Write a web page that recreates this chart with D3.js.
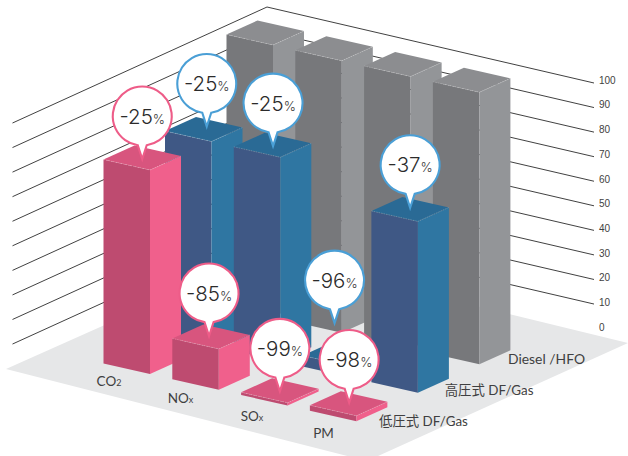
<!DOCTYPE html>
<html><head><meta charset="utf-8">
<script src="https://cdn.jsdelivr.net/npm/d3@7"></script>
<style>
html,body{margin:0;padding:0;background:#fff}
svg{display:block}
text{font-family:Lato,"Noto Sans CJK JP",sans-serif}
</style></head><body>
<svg id="c" width="628" height="456"></svg>
<script>
const categories = ["CO2","NOx","SOx","PM"];
const seriesNames = ["低圧式 DF/Gas","高圧式 DF/Gas","Diesel /HFO"];
const lowValues = [75,15,1,2];
const highValues = [75,75,4,63];
const dieselValues = [100,100,100,100];
const gridTicks = [10,20,30,40,50,60,70,80,90,100];
const axisTicks = [0,10,20,30,40,50,60,70,80,90,100];

const svg = d3.select("#c");
const uS = d3.scalePoint().domain(categories).range([0,3]);
const sS = d3.scalePoint().domain(seriesNames).range([0,2]);
const heightS = d3.scaleLinear().domain([0,100]).range([0,272]);
const project = (u,s)=>[150+68.8*u+61.5*s, 374+15.75*u-28.5*s];

const wallY = d3.scaleLinear().domain([0,100]).range([0,-245.6]);
const LEFT=[12.5,368.6], BACK=[267,252.6], RIGHT=[594,328.6];

const palette = [
 {left:"#BE4B70",right:"#F0608C",top:"#D8557E",ring:"#EE5C88"},
 {left:"#3F5885",right:"#2F76A2",top:"#2A6A95",ring:"#4A9FD6"},
 {left:"#77787B",right:"#939598",top:"#8C8D90",ring:"#888"}
];
const allValues=[lowValues,highValues,dieselValues];

// floor
svg.append("polygon").attr("points",[[6,369],[264,254],[628,343],[367,461]].join(" ")).attr("fill","#E6E7E8");

// wall grid lines
svg.append("g").selectAll("polyline").data(gridTicks).join("polyline")
  .attr("fill","none").attr("stroke","#2b2b2b").attr("stroke-width",0.9)
  .attr("points",v=>[LEFT,BACK,RIGHT].map(p=>[p[0],p[1]+wallY(v)]).join(" "));

// axis labels
const axisS = d3.scaleLinear().domain([0,100]).range([330,83]);
const ax = svg.append("g").attr("transform","translate(594,-3)")
  .call(d3.axisRight(axisS).tickValues(axisTicks).tickSize(0).tickPadding(5));
ax.select(".domain").remove();
ax.selectAll("text").attr("font-size",10).attr("fill","#3f3f41").style("font-family","'Liberation Sans',sans-serif");

// bars back to front
const W=[-46.5,-10.5], D=[31,-14];
const barsG = svg.append("g");
const pt=(p)=>p[0].toFixed(1)+","+p[1].toFixed(1);
[2,1,0].forEach(si=>{
  categories.forEach((cat,ci)=>{
    const F=project(uS(cat),sS(seriesNames[si]));
    const h=heightS(allValues[si][ci]);
    const c=palette[si];
    const L=[F[0]+W[0],F[1]+W[1]],R=[F[0]+D[0],F[1]+D[1]];
    const up=p=>[p[0],p[1]-h];
    const B=[L[0]+D[0],L[1]+D[1]];
    const g=barsG.append("g");
    g.append("polygon").attr("points",[L,F,up(F),up(L)].map(pt).join(" ")).attr("fill",c.left);
    g.append("polygon").attr("points",[F,R,up(R),up(F)].map(pt).join(" ")).attr("fill",c.right);
    g.append("polygon").attr("points",[up(L),up(F),up(R),up(B)].map(pt).join(" ")).attr("fill",c.top);
    g.append("polyline").attr("points",[up(L),up(F),up(R)].map(pt).join(" ")).attr("fill","none")
      .attr("stroke","#fff").attr("stroke-opacity",0.35).attr("stroke-width",0.6).attr("stroke-dasharray","1.5 1");
  });
});

// bubbles
const R_B=29.5, TIP=43, HW=4.5;
const nudges={ "0-0":[0,5],"0-1":[-2,3],"0-2":[0,4.5],"0-3":[0.5,2.7],
               "1-0":[3,1],"1-1":[0.5,4.8],"1-2":[-6.8,-27],"1-3":[0,2.3]};
const bubbleG=svg.append("g");
[[1,0],[1,1],[1,3],[0,0],[1,2],[0,1],[0,2],[0,3]].forEach(([si,ci])=>{
  const cat=categories[ci];
  const F=project(uS(cat),sS(seriesNames[si]));
  const v=allValues[si][ci];
  const n=nudges[si+"-"+ci];
  const tx=F[0]+(W[0]+D[0])/2+n[0], ty=F[1]-heightS(v)+(W[1]+D[1])/2+n[1];
  const cx=tx, cy=ty-46.7;
  const yj=cy+Math.sqrt(R_B*R_B-HW*HW);
  const g=bubbleG.append("g");
  g.append("path")
    .attr("d",`M${cx},${cy+TIP}L${cx+HW},${yj}A${R_B},${R_B} 0 1 0 ${cx-HW},${yj}Z`)
    .attr("fill","#fff").attr("stroke",palette[si].ring).attr("stroke-width",2.1);
  const t=g.append("text").attr("x",cx).attr("y",cy+7.5).attr("text-anchor","middle")
    .attr("fill","#2b2b2b").attr("font-weight",300).style("font-family","Inter,sans-serif");
  t.append("tspan").attr("font-size",20.5).text((v-100));
  t.append("tspan").attr("font-size",13).attr("fill","#3a3a3a").text("%");
});

// category labels
const catX=d3.scalePoint().domain(categories).range([109,323.5]);
const catY=d3.scalePoint().domain(categories).range([386,438]);
const subs={CO2:["CO","2"],NOx:["NO","x"],SOx:["SO","x"],PM:["PM",""]};
categories.forEach(c=>{
  const t=svg.append("text").attr("x",catX(c)).attr("y",catY(c)).attr("text-anchor","middle").attr("fill","#3f3f41");
  t.append("tspan").attr("font-size",13.5).text(subs[c][0]);
  if(subs[c][1]) t.append("tspan").attr("font-size",9).text(subs[c][1]);
});
// series labels
const serX=d3.scaleOrdinal(seriesNames,[379,444.7,508]);
const serY=d3.scalePoint().domain(seriesNames).range([425.5,363.5]);
seriesNames.forEach(s=>{
  svg.append("text").attr("x",serX(s)).attr("y",serY(s))
   .attr("font-size",s[0]==="D"?13.9:13.4).attr("fill","#3f3f41").text(s);
});
</script></body></html>
